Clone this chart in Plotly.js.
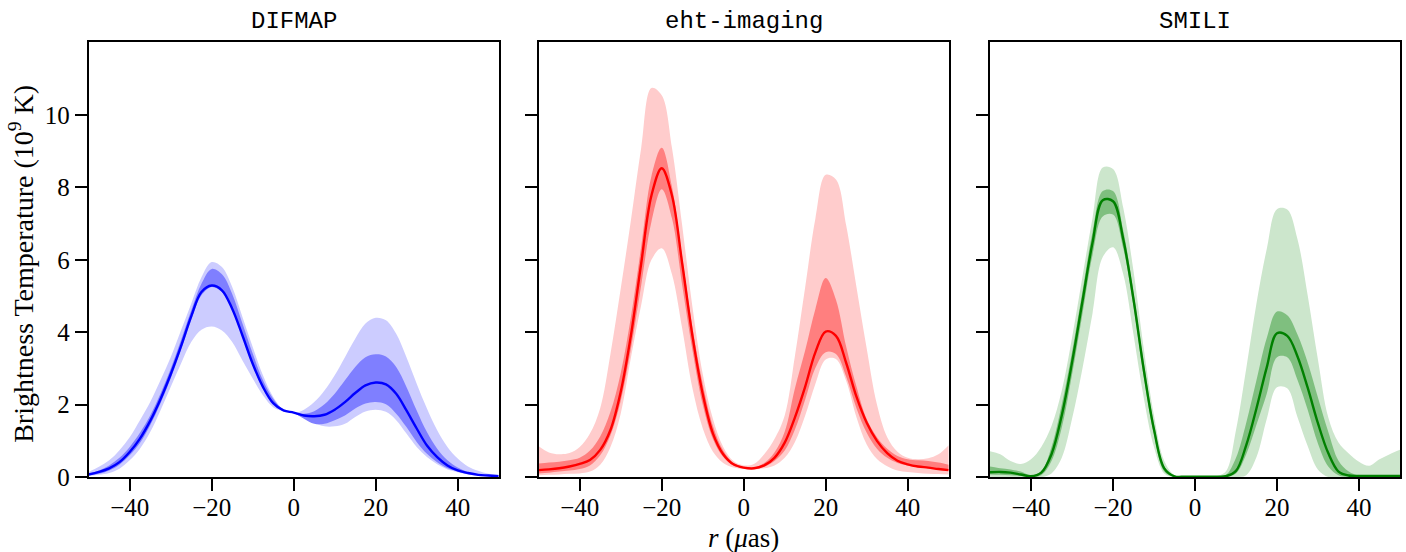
<!DOCTYPE html>
<html><head><meta charset="utf-8">
<script src="https://cdn.plot.ly/plotly-3.0.1.min.js"></script>
<style>html,body{margin:0;padding:0;background:#fff}#chart{width:1406px;height:552px}</style>
</head><body><div id="chart"></div>
<script>
// radius grid (micro-arcseconds)
const r = [-50,-47.5,-45,-42.5,-40,-37.5,-35,-32.5,-30,-27.5,-25,-22.5,-20,-17.5,-15,-12.5,-10,-7.5,-5,-2.5,0,2.5,5,7.5,10,12.5,15,17.5,20,22.5,25,27.5,30,32.5,35,37.5,40,42.5,45,47.5,50];

const panelTitles = ["DIFMAP", "eht-imaging", "SMILI"];
const xTickVals = [-40, -20, 0, 20, 40];
const xTickText = ["\u221240", "\u221220", "0", "20", "40"];
const yTickVals = [0, 2, 4, 6, 8, 10];
const yTickText = ["0", "2", "4", "6", "8", "10"];
const yLabel = "Brightness Temperature (10<sup>9</sup> K)";
const xLabel = "<i>r</i> (<i>\u03bc</i>as)";

// DIFMAP (10^9 K)
const difmapMid     = [0.07,0.14,0.24,0.41,0.69,1.06,1.55,2.15,2.84,3.61,4.44,5.11,5.29,5.16,4.65,3.91,3.13,2.49,2.04,1.84,1.78,1.70,1.68,1.72,1.86,2.07,2.32,2.53,2.61,2.56,2.30,1.84,1.34,0.87,0.55,0.32,0.18,0.11,0.06,0.04,0.02];
const difmapOuterHi = [0.14,0.28,0.46,0.74,1.10,1.57,2.07,2.67,3.31,4.05,4.79,5.52,5.94,5.80,5.25,4.42,3.59,2.81,2.21,1.86,1.77,1.86,2.07,2.39,2.81,3.31,3.82,4.24,4.40,4.33,3.96,3.31,2.58,1.89,1.29,0.83,0.51,0.29,0.17,0.09,0.06];
const difmapOuterLo = [0.03,0.06,0.11,0.23,0.46,0.78,1.24,1.84,2.49,3.13,3.73,4.07,4.16,4.05,3.73,3.22,2.72,2.26,1.93,1.82,1.78,1.66,1.49,1.40,1.40,1.47,1.66,1.81,1.86,1.80,1.57,1.20,0.83,0.55,0.35,0.21,0.13,0.07,0.04,0.02,0.01];
const difmapInnerHi = [0.09,0.18,0.32,0.53,0.83,1.22,1.70,2.30,2.99,3.78,4.60,5.34,5.75,5.60,5.06,4.24,3.41,2.67,2.16,1.86,1.77,1.75,1.82,2.01,2.30,2.67,3.04,3.31,3.39,3.33,3.04,2.49,1.84,1.24,0.78,0.46,0.26,0.14,0.07,0.04,0.02];
const difmapInnerLo = [0.05,0.09,0.18,0.34,0.60,0.94,1.43,2.03,2.72,3.50,4.33,5.02,5.25,5.11,4.60,3.87,3.08,2.44,2.01,1.82,1.77,1.61,1.47,1.47,1.57,1.70,1.89,2.03,2.07,2.01,1.75,1.38,0.97,0.64,0.41,0.24,0.15,0.08,0.05,0.03,0.02];

// eht-imaging
const ehtMid     = [0.19,0.21,0.24,0.29,0.36,0.47,0.75,1.30,2.35,3.92,5.90,7.78,8.53,7.78,5.90,3.90,2.30,1.20,0.63,0.35,0.26,0.24,0.32,0.53,0.95,1.65,2.50,3.45,4.02,3.90,3.15,2.22,1.50,1.00,0.66,0.45,0.35,0.29,0.26,0.22,0.19];
const ehtOuterHi = [0.85,0.68,0.63,0.66,0.83,1.20,1.90,3.40,5.20,7.10,9.10,10.75,10.55,9.10,6.95,4.70,2.85,1.60,0.83,0.44,0.32,0.36,0.63,1.05,1.70,3.35,5.25,7.15,8.35,8.22,6.95,5.25,3.55,2.00,1.10,0.70,0.53,0.49,0.52,0.63,0.88];
const ehtOuterLo = [0.05,0.06,0.07,0.09,0.10,0.15,0.34,0.83,1.75,3.30,4.75,6.00,6.32,5.60,4.10,2.45,1.35,0.70,0.39,0.26,0.22,0.21,0.24,0.32,0.53,0.97,1.70,2.58,3.25,3.26,2.65,1.65,0.90,0.50,0.30,0.18,0.14,0.11,0.09,0.08,0.07];
const ehtInnerHi = [0.37,0.40,0.42,0.46,0.53,0.73,1.12,1.80,2.87,4.43,6.37,8.32,9.10,8.03,6.08,4.13,2.58,1.41,0.73,0.39,0.28,0.26,0.39,0.68,1.25,2.45,3.50,4.65,5.50,4.90,3.60,2.50,1.60,1.10,0.78,0.58,0.49,0.46,0.44,0.40,0.34];
const ehtInnerLo = [0.10,0.12,0.15,0.18,0.22,0.32,0.60,1.15,2.10,3.55,5.30,7.05,7.95,7.15,5.30,3.50,2.00,1.05,0.55,0.32,0.24,0.22,0.28,0.44,0.73,1.31,2.14,3.02,3.45,3.40,2.77,1.90,1.22,0.78,0.53,0.39,0.32,0.27,0.24,0.21,0.19];

// SMILI
const smiliMid     = [0.13,0.14,0.12,0.07,0.02,0.12,0.63,1.70,3.16,4.82,6.47,7.65,7.62,6.57,4.91,2.97,1.31,0.24,0.02,0.01,0.01,0.01,0.01,0.02,0.17,0.88,1.90,3.03,3.97,3.90,3.33,2.46,1.48,0.66,0.15,0.04,0.03,0.03,0.03,0.03,0.03];
const smiliOuterHi = [0.71,0.63,0.44,0.36,0.49,0.83,1.41,2.38,3.84,5.50,7.15,8.55,8.51,7.44,5.69,3.55,1.70,0.44,0.05,0.02,0.02,0.02,0.02,0.15,1.30,3.00,4.80,6.30,7.40,7.39,6.57,5.01,3.23,1.65,0.95,0.65,0.42,0.31,0.49,0.63,0.75];
const smiliOuterLo = [0,0,0,0,0,0,0.10,0.53,1.60,2.97,4.52,6.08,6.35,5.60,3.94,2.19,0.83,0.10,0,0,0,0,0,0,0,0.05,0.55,1.60,2.48,2.45,1.65,0.85,0.20,0,0,0,0,0,0,0,0];
const smiliInnerHi = [0.29,0.24,0.21,0.15,0.05,0.15,0.83,2.00,3.45,5.10,6.76,7.90,7.90,6.81,5.10,3.16,1.46,0.29,0.02,0,0,0,0,0.05,0.53,1.50,2.68,3.84,4.57,4.47,3.94,3.16,2.19,1.25,0.45,0.15,0.04,0.04,0.04,0.04,0.04];
const smiliInnerLo = [0.07,0.06,0.05,0.03,0,0.05,0.44,1.36,2.82,4.47,6.13,7.20,7.25,6.32,4.72,2.77,1.17,0.15,0,0,0,0,0,0,0.10,0.63,1.45,2.30,3.31,3.31,2.68,1.85,0.92,0.29,0.05,0,0,0,0,0,0];

const panels = [
  {mid: difmapMid, oHi: difmapOuterHi, oLo: difmapOuterLo, iHi: difmapInnerHi, iLo: difmapInnerLo,
   line: "rgb(0,0,255)", light: "rgb(204,204,255)", dark: "rgb(127,127,255)"},
  {mid: ehtMid, oHi: ehtOuterHi, oLo: ehtOuterLo, iHi: ehtInnerHi, iLo: ehtInnerLo,
   line: "rgb(255,0,0)", light: "rgb(255,204,204)", dark: "rgb(255,127,127)"},
  {mid: smiliMid, oHi: smiliOuterHi, oLo: smiliOuterLo, iHi: smiliInnerHi, iLo: smiliInnerLo,
   line: "rgb(0,128,0)", light: "rgb(204,230,204)", dark: "rgb(127,191,127)"}
];

const W = 1406;
const domains = [[88.7/W, 498.7/W], [538.7/W, 948.7/W], [990/W, 1400/W]];

const traces = [];
panels.forEach((p, i) => {
  const xa = i === 0 ? "x" : "x" + (i + 1);
  const ya = i === 0 ? "y" : "y" + (i + 1);
  const base = {x: r, xaxis: xa, yaxis: ya, mode: "lines", hoverinfo: "skip", showlegend: false};
  traces.push(Object.assign({}, base, {y: p.oLo, line: {width: 0, shape: "spline", color: p.light}}));
  traces.push(Object.assign({}, base, {y: p.oHi, fill: "tonexty", fillcolor: p.light, line: {width: 0, shape: "spline", color: p.light}}));
  traces.push(Object.assign({}, base, {y: p.iLo, line: {width: 0, shape: "spline", color: p.dark}}));
  traces.push(Object.assign({}, base, {y: p.iHi, fill: "tonexty", fillcolor: p.dark, line: {width: 0, shape: "spline", color: p.dark}}));
  traces.push(Object.assign({}, base, {y: p.mid, line: {width: 2.4, shape: "spline", color: p.line}}));
});

const tickFont = {family: "Liberation Serif, serif", size: 25, color: "#000"};
const layout = {
  width: 1406, height: 552,
  margin: {l: 0, r: 0, t: 42, b: 75},
  paper_bgcolor: "#fff", plot_bgcolor: "#fff",
  showlegend: false,
  annotations: []
};
domains.forEach((d, i) => {
  const xk = i === 0 ? "xaxis" : "xaxis" + (i + 1);
  const yk = i === 0 ? "yaxis" : "yaxis" + (i + 1);
  const xa = i === 0 ? "x" : "x" + (i + 1);
  const ya = i === 0 ? "y" : "y" + (i + 1);
  layout[xk] = {
    domain: d, anchor: ya, range: [-50, 50], fixedrange: true,
    tickmode: "array", tickvals: xTickVals, ticktext: xTickText,
    ticks: "outside", ticklen: 12, tickwidth: 2, tickcolor: "#000",
    ticklabelstandoff: -5,
    showline: true, linewidth: 2, linecolor: "#000", mirror: true,
    showgrid: false, zeroline: false, tickfont: tickFont
  };
  layout[yk] = {
    domain: [0, 1], anchor: xa, range: [0, 12.02], fixedrange: true,
    tickmode: "array", tickvals: yTickVals, ticktext: yTickText,
    ticks: "outside", ticklen: 12, tickwidth: 2, tickcolor: "#000",
    showline: true, linewidth: 2, linecolor: "#000", mirror: true,
    showgrid: false, zeroline: false, tickfont: tickFont,
    showticklabels: i === 0
  };
  layout.annotations.push({
    text: panelTitles[i], xref: "paper", yref: "paper",
    x: (d[0] + d[1]) / 2, y: 1.048, xanchor: "center", yanchor: "middle",
    showarrow: false, font: {family: "Liberation Mono, monospace", size: 24, color: "#000"}
  });
});
layout.annotations.push({
  text: yLabel, xref: "paper", yref: "paper", x: 22/W, y: 0.49,
  xanchor: "center", yanchor: "middle", textangle: -90, showarrow: false,
  font: {family: "Liberation Serif, serif", size: 28, color: "#000"}
});
layout.annotations.push({
  text: xLabel, xref: "paper", yref: "paper", x: 743.7/W, y: -0.141,
  xanchor: "center", yanchor: "middle", showarrow: false,
  font: {family: "Liberation Serif, serif", size: 27, color: "#000"}
});

Plotly.newPlot("chart", traces, layout, {staticPlot: true, displayModeBar: false});
</script>
</body></html>
